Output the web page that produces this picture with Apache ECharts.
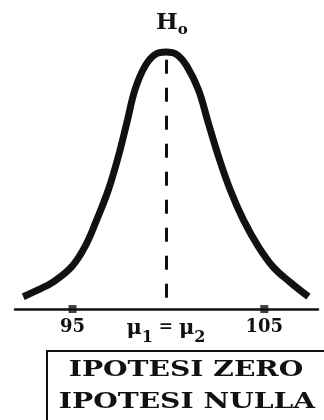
<!DOCTYPE html>
<html>
<head>
<meta charset="utf-8">
<style>
  html, body { margin: 0; padding: 0; background: #fff; }
  #chart { width: 324px; height: 420px; }
</style>
<script src="https://cdn.jsdelivr.net/npm/echarts@6/dist/echarts.min.js"></script>
</head>
<body>
<div id="chart"></div>
<script>
// Null-hypothesis sampling curve: value on the x axis, relative height on y.
const curveX = [92.43, 93.2, 94.0, 94.96, 95.65, 96.26, 96.87, 97.39, 97.83, 98.26, 98.78, 99.3, 99.87,
                100.44, 100.96, 101.56, 102.08, 102.61, 103.22, 103.91, 104.69, 105.47, 106.35, 107.3];
const curveY = [0.048, 0.074, 0.106, 0.165, 0.243, 0.347, 0.464, 0.594, 0.724, 0.854, 0.945, 0.99, 1.0,
                0.99, 0.945, 0.854, 0.724, 0.594, 0.464, 0.347, 0.243, 0.163, 0.104, 0.048];

// Common mean of the two populations (dashed line) and the marked limits.
const meanValue = 99.87;
const tickValues = [95, 105];
const labelValues = [95, meanValue, 105];

const titleText = 'H';
const titleSub = 'o';
const boxLines = ['IPOTESI ZERO', 'IPOTESI NULLA'];

const SERIF = '"DejaVu Serif", "Liberation Serif", serif';
const INK = '#111';

const chart = echarts.init(document.getElementById('chart'), null, { renderer: 'canvas' });

const curveData = curveX.map((x, i) => [x, curveY[i]]);
const tickData = tickValues.map(v => [v, 0]);

chart.setOption({
  animation: false,
  backgroundColor: '#fff',
  grid: { left: 15, right: 6, top: 52, bottom: 111 },
  xAxis: {
    type: 'value',
    min: 92,
    max: 107.8,
    splitLine: { show: false },
    axisTick: { show: false },
    axisLine: { show: true, onZero: false, lineStyle: { color: INK, width: 2.5 } },
    axisLabel: {
      customValues: labelValues,
      margin: 9,
      color: INK,
      fontFamily: SERIF,
      fontWeight: 'bold',
      fontSize: 18,
      formatter: function (v) {
        if (Math.abs(v - meanValue) < 1e-6) {
          return '{m|μ}{s|1}{e| = }{m|μ}{s|2}';
        }
        return '{n|' + v + '}';
      },
      rich: {
        n: { fontFamily: SERIF, fontWeight: 'bold', fontSize: 18, color: INK, lineHeight: 22, verticalAlign: 'top' },
        m: { fontFamily: SERIF, fontWeight: 'bold', fontSize: 21, color: INK, lineHeight: 22, verticalAlign: 'top' },
        e: { fontFamily: SERIF, fontWeight: 'bold', fontSize: 17, color: INK, lineHeight: 22, verticalAlign: 'top' },
        s: { fontFamily: SERIF, fontWeight: 'bold', fontSize: 16, color: INK, lineHeight: 28, verticalAlign: 'bottom' }
      }
    }
  },
  yAxis: { type: 'value', min: 0, max: 1, show: false },
  series: [
    {
      type: 'line',
      data: curveData,
      smooth: 0.4,
      showSymbol: false,
      clip: false,
      silent: true,
      lineStyle: { color: INK, width: 7, cap: 'butt', join: 'round' },
      markLine: {
        silent: true,
        symbol: ['none', 'none'],
        label: { show: false },
        lineStyle: { color: INK, width: 3, type: [14, 14] },
        data: [[{ coord: [meanValue, 0.97] }, { coord: [meanValue, 0.035] }]]
      }
    },
    {
      type: 'scatter',
      data: tickData,
      symbol: 'rect',
      symbolSize: [8, 8],
      clip: false,
      silent: true,
      itemStyle: { color: INK },
      z: 5
    }
  ],
  graphic: [
    {
      type: 'text',
      left: 156,
      top: 12,
      style: {
        text: '{h|' + titleText + '}{s|' + titleSub + '}',
        rich: {
          h: { fontFamily: SERIF, fontWeight: 'bold', fontSize: 23, fill: INK, lineHeight: 26, verticalAlign: 'top' },
          s: { fontFamily: SERIF, fontWeight: 'bold', fontSize: 15, fill: INK, verticalAlign: 'bottom' }
        }
      }
    },
    {
      type: 'rect',
      shape: { x: 47, y: 351, width: 320, height: 120 },
      style: { fill: 'none', stroke: INK, lineWidth: 2 }
    },
    {
      type: 'text',
      x: 186,
      y: 370,
      scaleX: 1.28,
      style: {
        text: boxLines[0],
        fontFamily: SERIF,
        fontWeight: 'bold',
        fontSize: 22,
        fill: INK,
        align: 'center',
        verticalAlign: 'middle'
      }
    },
    {
      type: 'text',
      x: 187,
      y: 402,
      scaleX: 1.28,
      style: {
        text: boxLines[1],
        fontFamily: SERIF,
        fontWeight: 'bold',
        fontSize: 22,
        fill: INK,
        align: 'center',
        verticalAlign: 'middle'
      }
    }
  ]
});
</script>
</body>
</html>
